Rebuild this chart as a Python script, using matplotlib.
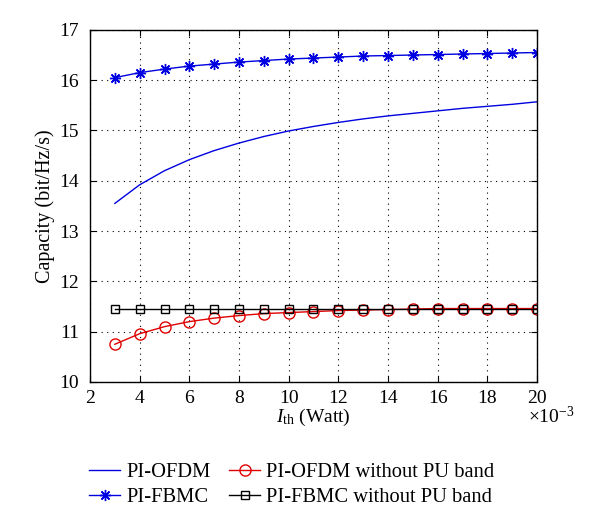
import matplotlib
matplotlib.use("Agg")
import matplotlib.pyplot as plt
import numpy as np
from matplotlib.ticker import FuncFormatter

plt.rcParams['font.family'] = ['Liberation Serif', 'DejaVu Serif']
plt.rcParams['mathtext.fontset'] = 'custom'
plt.rcParams['mathtext.rm'] = 'Liberation Serif'
plt.rcParams['mathtext.it'] = 'Liberation Serif:italic'
plt.rcParams['font.size'] = 14

x_mw = [3, 4, 5, 6, 7, 8, 9, 10, 11, 12, 13, 14, 15, 16, 17, 18, 19, 20]
pi_ofdm = [13.55, 13.92, 14.20, 14.42, 14.60, 14.75, 14.88, 14.99, 15.08, 15.16,
           15.23, 15.29, 15.34, 15.39, 15.44, 15.48, 15.52, 15.57]
pi_fbmc = [16.05, 16.15, 16.22, 16.28, 16.32, 16.36, 16.39, 16.42, 16.44, 16.46,
           16.48, 16.49, 16.50, 16.51, 16.52, 16.53, 16.54, 16.55]
pi_ofdm_nopu = [10.75, 10.96, 11.10, 11.20, 11.27, 11.32, 11.36, 11.38, 11.40, 11.42,
                11.43, 11.44, 11.45, 11.46, 11.46, 11.46, 11.46, 11.46]
pi_fbmc_nopu = [11.46] * 18
x_ticks_mw = [2, 4, 6, 8, 10, 12, 14, 16, 18, 20]
y_ticks = [10, 11, 12, 13, 14, 15, 16, 17]

x = np.array(x_mw) * 1e-3

fig = plt.figure(figsize=(6.0, 5.24), dpi=100)
ax = fig.add_axes([0.15, 0.271, 0.745, 0.672])

ax.plot(x, pi_ofdm, color='#0000e0', lw=1.0, label='PI-OFDM')
ax.plot(x, pi_fbmc, color='#0000e0', lw=1.0, marker=(8, 2, 0), ms=8, mew=1.0, label='PI-FBMC')
ax.plot(x, pi_ofdm_nopu, color='#e00000', lw=1.0, marker='o', ms=8, mfc='none', mew=1.0,
        label='PI-OFDM without PU band')
ax.plot(x, pi_fbmc_nopu, color='black', lw=1.0, marker='s', ms=6, mfc='none', mew=1.0,
        label='PI-FBMC without PU band')

ax.set_xlim(0.002, 0.020)
ax.set_ylim(10, 17)
ax.set_xticks(np.array(x_ticks_mw) * 1e-3)
ax.set_yticks(y_ticks)
ax.xaxis.set_major_formatter(FuncFormatter(lambda v, p: f"{v*1e3:.0f}"))
ax.grid(True, color='black', linestyle=(0, (1, 4)), linewidth=0.8)
ax.tick_params(direction='in', top=True, right=True, length=4)
ax.tick_params(axis='y', pad=8)
ax.tick_params(axis='x', pad=6)
for s in ax.spines.values():
    s.set_linewidth(1.0)

ax.set_xlabel(r'$I_{\rm th}$ (Watt)', labelpad=0)
ax.set_ylabel('Capacity (bit/Hz/s)', fontsize=14.5, labelpad=3)
fig.text(528 / 600, 1 - 417 / 524, r'$\times10^{-3}$', ha='left', va='center')

fig.legend(loc='lower left', bbox_to_anchor=(0.135, 0.016), ncol=2, frameon=False,
           fontsize=14.8, handlelength=1.5, columnspacing=0.9, labelspacing=0.28,
           handletextpad=0.3, borderaxespad=0.0)

fig.savefig('out.png', dpi=100)
